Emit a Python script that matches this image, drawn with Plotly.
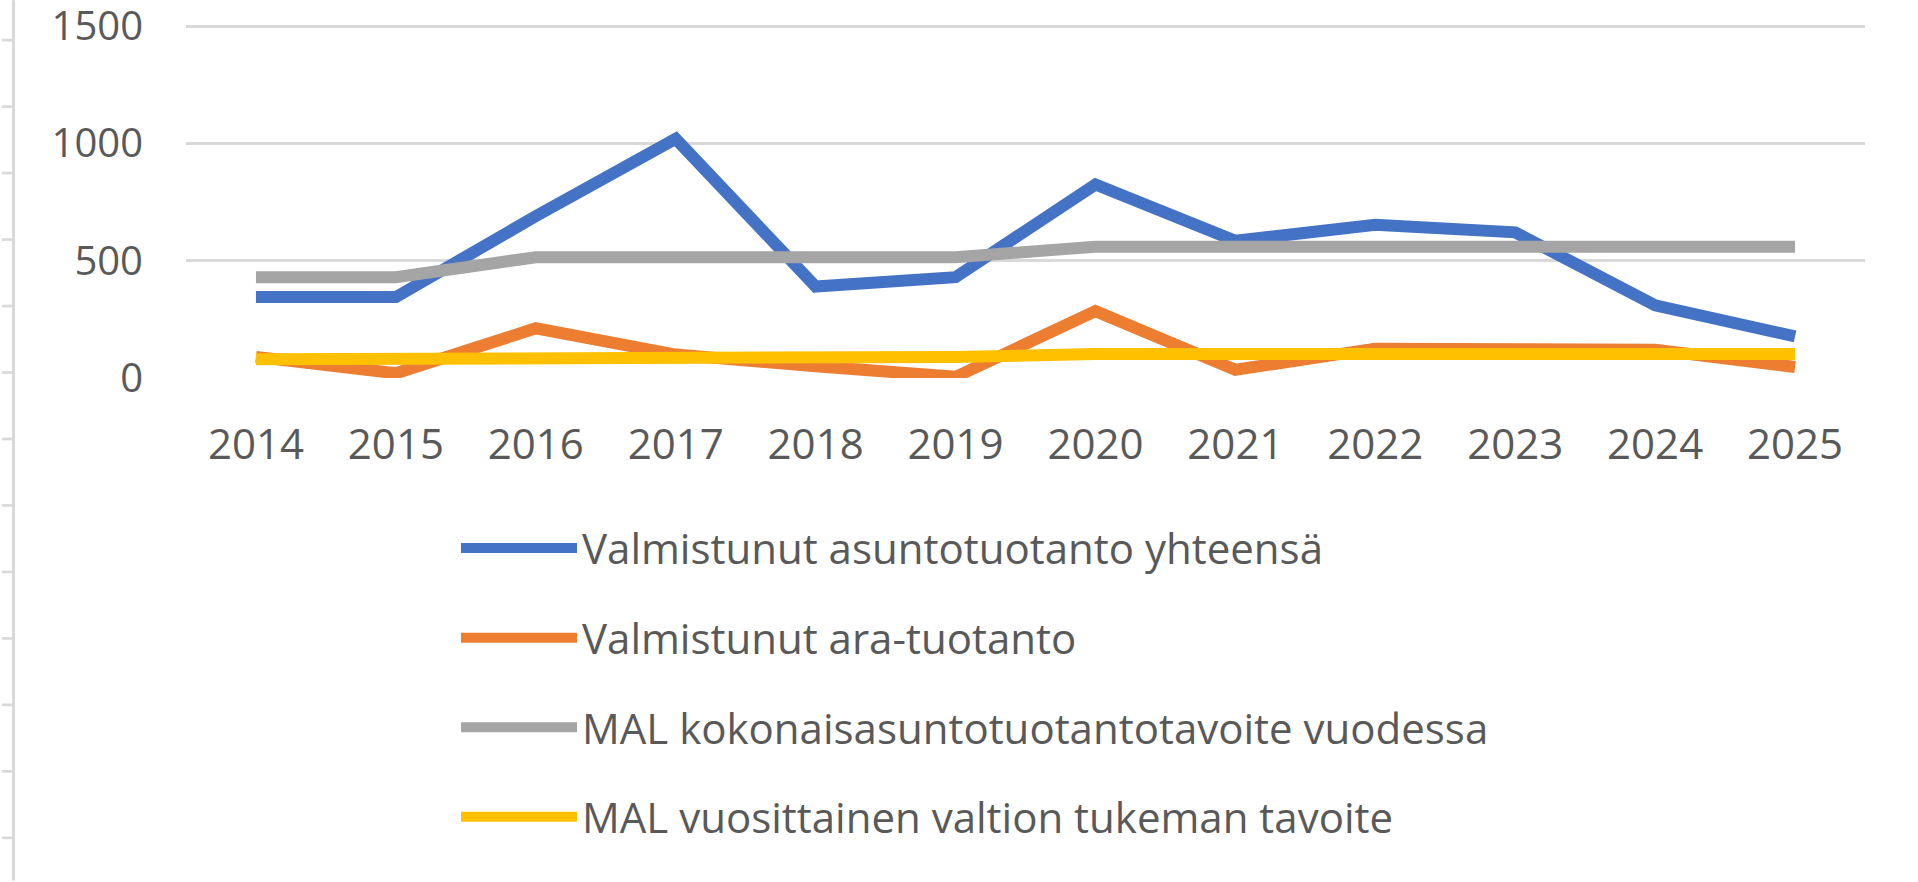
import plotly.graph_objects as go

years = ["2014", "2015", "2016", "2017", "2018", "2019", "2020", "2021", "2022", "2023", "2024", "2025"]
valmistunut_yht = [345, 345, 690, 1020, 390, 430, 825, 585, 653, 621, 310, 177]
valmistunut_ara = [90, 20, 212, 100, 50, 5, 285, 35, 125, 120, 120, 47]
mal_kokonais = [430, 430, 515, 515, 515, 515, 560, 560, 560, 560, 560, 560]
mal_valtion = [80, 80, 90, 90, 90, 90, 102, 102, 102, 102, 102, 102]
y_ticks = [0, 500, 1000, 1500]

names = [
    "Valmistunut asuntotuotanto yhteensä",
    "Valmistunut ara-tuotanto",
    "MAL kokonaisasuntotuotantotavoite vuodessa",
    "MAL vuosittainen valtion tukeman tavoite",
]
colors = ["#4472C4", "#ED7D31", "#A5A5A5", "#FFC000"]
series = [valmistunut_yht, valmistunut_ara, mal_kokonais, mal_valtion]

W, H = 1918, 882
Y_TOP = 1505
L, R, B = 186, 53, 503.5
T = 26 - (Y_TOP - 1500) * (352.5 / 1500)
pw, ph = W - L - R, H - T - B

fig = go.Figure()
for i, (nm, col, vals) in enumerate(zip(names, colors, series)):
    fig.add_trace(go.Scatter(
        x=years, y=vals, name=nm, mode="lines",
        line=dict(color=col, width=12),
        legendgroup=f"g{i}",
    ))

def px2paper_x(px):
    return (px - L) / pw

def px2paper_y(py):
    return (H - B - py) / ph

shapes = []
# spreadsheet-like left border with small ticks
shapes.append(dict(type="line", xref="paper", yref="paper",
                   x0=px2paper_x(13.5), x1=px2paper_x(13.5),
                   y0=px2paper_y(0), y1=px2paper_y(882),
                   line=dict(color="#D9D9D9", width=3), layer="below"))
k = 0
while 40 + 66.6 * k < 882:
    yy = 40 + 66.6 * k
    shapes.append(dict(type="line", xref="paper", yref="paper",
                       x0=px2paper_x(2), x1=px2paper_x(13),
                       y0=px2paper_y(yy), y1=px2paper_y(yy),
                       line=dict(color="#D9D9D9", width=2.7), layer="below"))
    k += 1

font_family = "Open Sans"
fig.update_layout(
    width=W, height=H,
    margin=dict(l=L, r=R, t=T, b=B, pad=0, autoexpand=False),
    paper_bgcolor="white", plot_bgcolor="white",
    font=dict(family=font_family, color="#595959", size=42),
    showlegend=True,
    legend=dict(
        x=px2paper_x(456), xanchor="left",
        y=px2paper_y(515), yanchor="top",
        font=dict(family=font_family, size=42, color="#595959"),
        tracegroupgap=32,
        itemwidth=116,
        bgcolor="rgba(0,0,0,0)",
    ),
    shapes=shapes,
)
fig.update_xaxes(
    type="category", range=[-0.5, 11.5],
    showgrid=False, showline=False, zeroline=False,
    ticks="", ticklabelstandoff=38,
    tickfont=dict(family=font_family, size=42, color="#595959"),
)
fig.update_yaxes(
    range=[0, Y_TOP], tickmode="array", tickvals=y_ticks,
    showgrid=True, gridcolor="#D9D9D9", gridwidth=3,
    showline=False, zeroline=False, ticks="",
    ticklabelstandoff=42, ticklabeloverflow="allow",
    tickfont=dict(family=font_family, size=40, color="#595959"),
)

fig.write_html(
    "out.html",
    config={"displayModeBar": False},
    post_script="document.body.style.margin='0';document.body.style.overflow='hidden';",
)
